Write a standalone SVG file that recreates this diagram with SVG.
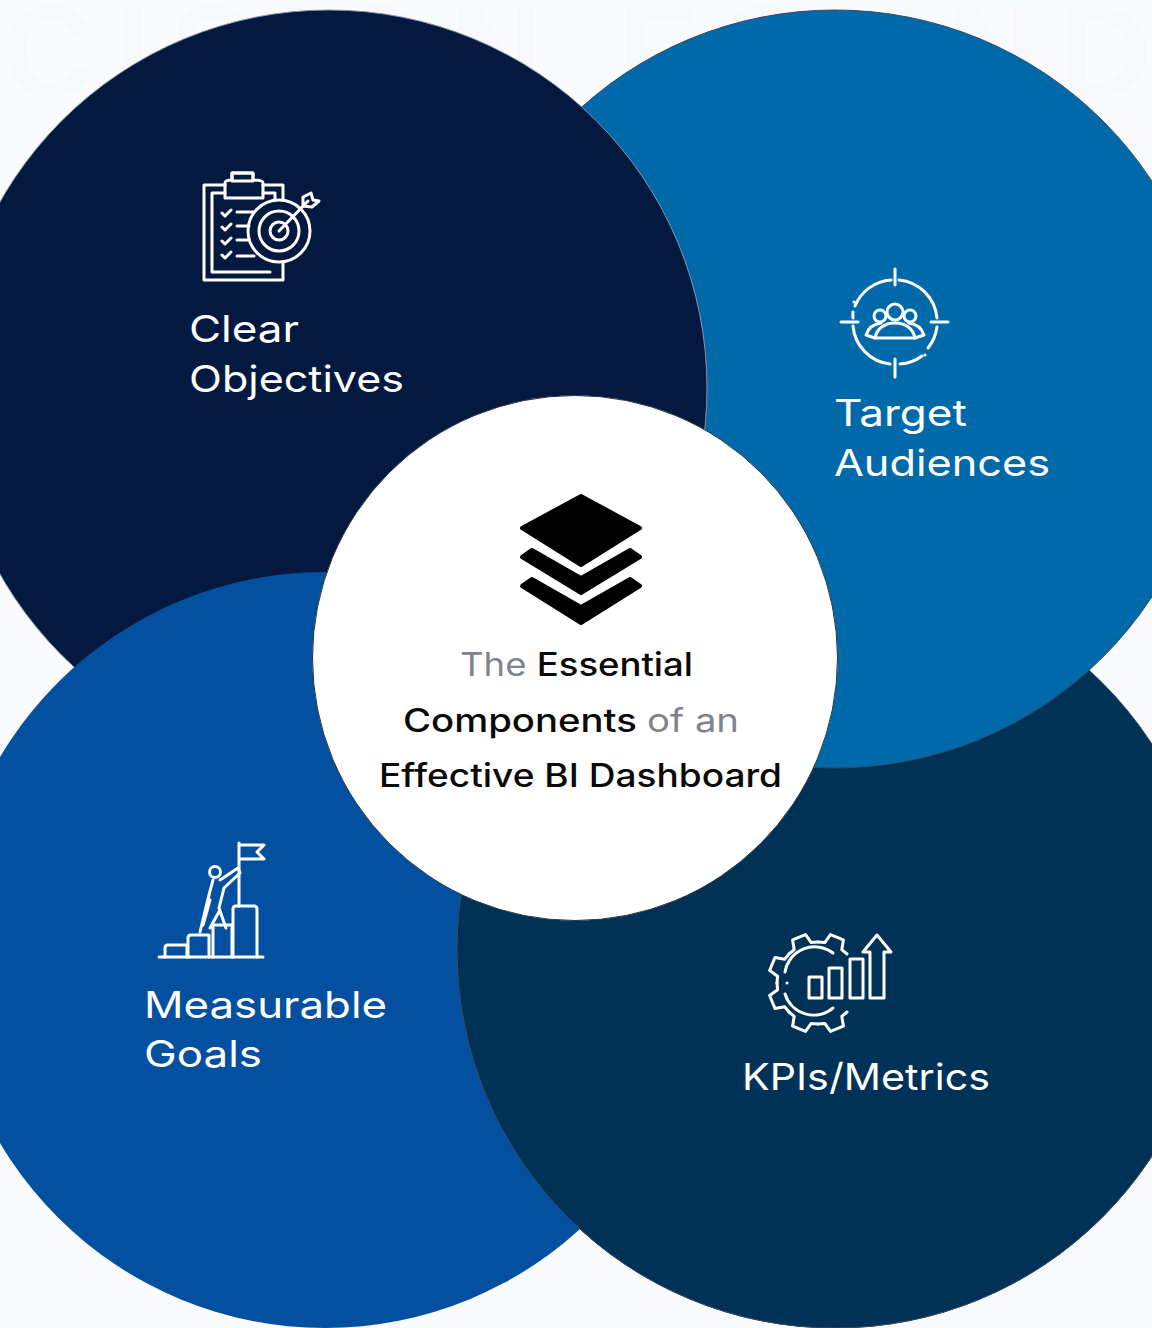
<svg xmlns="http://www.w3.org/2000/svg" xmlns:xlink="http://www.w3.org/1999/xlink" width="1152" height="1328" viewBox="0 0 1152 1328">
<style>
.c{stroke:#3b4a5c;stroke-width:1}
.ic{fill:none;stroke:#fff;stroke-width:3;stroke-linecap:round;stroke-linejoin:round}
.lb{font-family:"Inter","Open Sans","Liberation Sans",sans-serif;font-weight:400;font-size:37px;fill:#fff}
.ct{font-family:"Inter","Open Sans","Liberation Sans",sans-serif;font-size:32px;font-weight:500;fill:#0a0a0a}
.g{fill:#7f838b;font-weight:400}
</style>
<defs>
<clipPath id="low"><rect x="0" y="785" width="1152" height="543"/></clipPath>
<path id="tooth" d="M-15.7-37.9-9.2-39.9-7-49.5H7L9.2-39.9 15.7-37.9" class="ic"/>
</defs>
<rect width="1152" height="1328" fill="#fafbfe"/>
<text x="2" y="96" font-family="Liberation Sans,sans-serif" font-weight="700" font-size="128" fill="#f7f8fa" textLength="1150" lengthAdjust="spacing">CISION FOUND</text>
<g id="node-kpis-circle"><circle class="c" cx="835" cy="950" r="378" fill="#003157"/></g>
<g id="node-audiences-circle"><circle class="c" cx="835" cy="389" r="379" fill="#0069aa"/></g>
<g id="node-objectives-circle"><circle cx="329" cy="388" r="378" fill="#03193f" stroke="#8a94a6" stroke-width="1"/></g>
<g id="node-goals-circle"><circle cx="325" cy="950" r="378" fill="#0350a0"/></g>
<g id="node-kpis-front" clip-path="url(#low)"><circle class="c" cx="835" cy="950" r="378" fill="#003157"/></g>

<g id="node-objectives">
<g class="ic">
<path d="M225 185H204V280H283V262M263 185H283V200"/>
<path d="M225 193H212V272H270M263 193H275V200"/>
<path d="M225 198V183Q225 180 232 180V173H253V180Q263 180 263 183V198Z"/>
<path d="M232 173H253V181H232Z"/>
<path d="M222 213l3 3 6-6M222 227l3 3 6-6M222 241l3 3 6-6M222 255l3 3 6-6"/>
<path d="M237 212H254M237 226H249M237 240H249M237 256H254"/>
<circle cx="279" cy="231" r="31"/><circle cx="279" cy="231" r="20"/><circle cx="279" cy="231" r="9"/>
<path d="M279 231 308 201M303 206V197L311 193 313 200 319 201 312 207Z"/>
</g>
<text class="lb" x="189" y="342" textLength="110" lengthAdjust="spacingAndGlyphs">Clear</text>
<text class="lb" x="189" y="392" textLength="215" lengthAdjust="spacingAndGlyphs">Objectives</text>
</g>

<g id="node-audiences">
<g class="ic">
<path d="M895 269V285M895 359V377M841 322H858M931 322H948"/>
<path d="M899 280A42 42 0 0 1 937 318M937 327A42 42 0 0 1 928 348M922 356A42 42 0 0 1 900 364M890 364A42 42 0 0 1 853 326M853 318A42 42 0 0 1 853 312M855 306A42 42 0 0 1 891 280"/>
<path d="M854 302h.1M925 355h.1"/>
<circle cx="895" cy="312" r="8"/><circle cx="880" cy="316" r="6"/><circle cx="910" cy="316" r="6"/>
<path d="M875 338C877 328 885 323 895 323S913 328 915 338Z"/>
<path d="M881 323C873 324 868 329 866 335L875 338M909 323C917 324 922 329 924 335L915 338"/>
</g>
<text class="lb" x="834" y="426" textLength="133" lengthAdjust="spacingAndGlyphs">Target</text>
<text class="lb" x="834" y="476" textLength="216" lengthAdjust="spacingAndGlyphs">Audiences</text>
</g>

<g id="node-goals">
<g class="ic">
<path d="M159 957H263"/>
<path d="M165 957V948Q165 945 168 945H187V957M188 957V938Q188 935 191 935H209V957M213 957V925H232V957M233 957V909Q233 906 236 906H254Q257 906 257 909V957"/>
<path d="M239 906V843M239 845H264L257 852 264 859H239"/>
<circle cx="215" cy="872" r="5.5"/>
<path d="M220 880 238 868 240 873 224 888 219 908 226 928M213 880 209 895 200 932M210 900 203 925M220 910 210 928"/>
</g>
<text class="lb" x="144" y="1018" textLength="243" lengthAdjust="spacingAndGlyphs">Measurable</text>
<text class="lb" x="144" y="1067" textLength="118" lengthAdjust="spacingAndGlyphs">Goals</text>
</g>

<g id="node-kpis">
<g class="ic">
<use xlink:href="#tooth" href="#tooth" transform="translate(818 983) rotate(22.5)"/>
<use xlink:href="#tooth" href="#tooth" transform="translate(818 983) rotate(-22.5)"/>
<use xlink:href="#tooth" href="#tooth" transform="translate(818 983) rotate(-67.5)"/>
<use xlink:href="#tooth" href="#tooth" transform="translate(818 983) rotate(-112.5)"/>
<use xlink:href="#tooth" href="#tooth" transform="translate(818 983) rotate(-157.5)"/>
<use xlink:href="#tooth" href="#tooth" transform="translate(818 983) rotate(157.5)"/>
<path d="M833 953A30 30 0 0 0 785 972M785 994A30 30 0 0 0 833 1008M787 983h.1"/>
<rect x="809" y="977" width="13" height="21"/><rect x="829" y="968" width="13" height="30"/><rect x="850" y="959" width="13" height="39"/>
<path d="M870 998V952H863L877 935 891 952H884V998Z"/>
</g>
<text class="lb" x="742" y="1090" textLength="248" lengthAdjust="spacingAndGlyphs">KPIs/Metrics</text>
</g>

<g id="node-center">
<circle cx="575" cy="658" r="262.5" fill="#fff" stroke="#2d3640" stroke-width="1"/>
<g fill="#000" stroke="#000" stroke-width="4" stroke-linejoin="round">
<path d="M581 496 640 528 581 565 522 528Z"/>
<path d="M522 557 532 550 581 578 630 550 640 557 581 593Z"/>
<path d="M522 586 532 579 581 607 630 579 640 586 581 623Z"/>
</g>
<text class="ct" x="460" y="676" textLength="233" lengthAdjust="spacingAndGlyphs"><tspan class="g">The </tspan>Essential</text>
<text class="ct" x="403" y="732" textLength="336" lengthAdjust="spacingAndGlyphs">Components <tspan class="g">of an</tspan></text>
<text class="ct" x="379" y="787" textLength="403" lengthAdjust="spacingAndGlyphs">Effective BI Dashboard</text>
</g>
<g id="connectors"/>
</svg>
